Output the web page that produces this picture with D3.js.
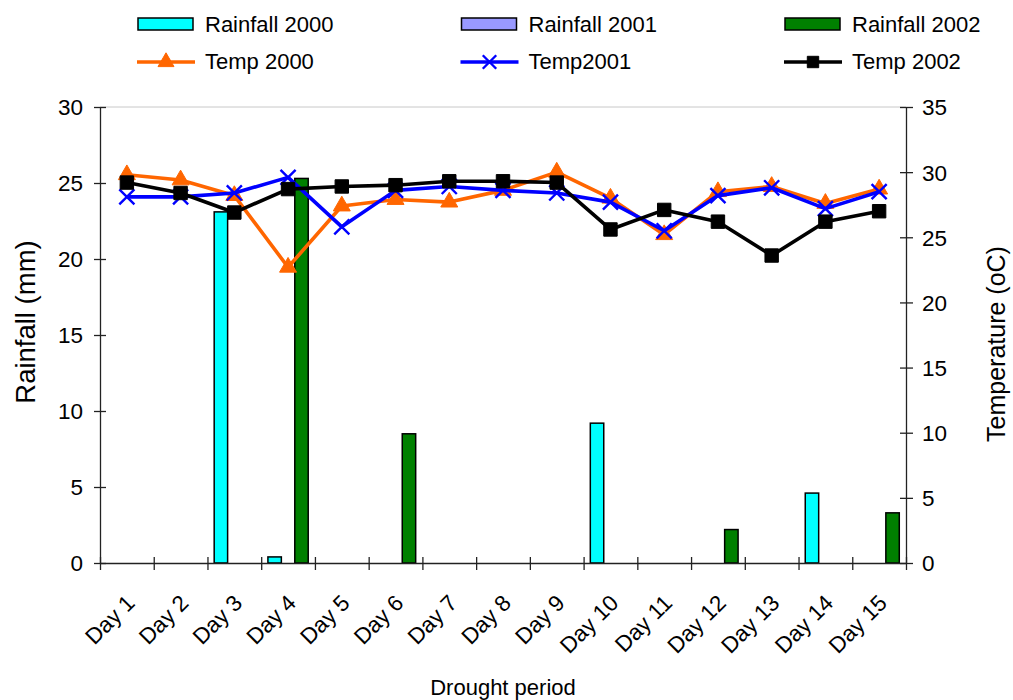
<!DOCTYPE html>
<html>
<head>
<meta charset="utf-8">
<script src="https://cdn.jsdelivr.net/npm/d3@7"></script>
<style>
  body { margin: 0; background: #fff; }
  text { font-family: "Liberation Sans", Arial, sans-serif; fill: #000; }
</style>
</head>
<body>
<div id="chart"></div>
<script>
const days = ['Day 1', 'Day 2', 'Day 3', 'Day 4', 'Day 5', 'Day 6', 'Day 7', 'Day 8',
  'Day 9', 'Day 10', 'Day 11', 'Day 12', 'Day 13', 'Day 14', 'Day 15'];

const rain2000 = [0, 0, 23.1, 0.4, 0, 0, 0, 0, 0, 9.2, 0, 0, 0, 4.6, 0];
const rain2001 = [0, 0, 0, 0, 0, 0, 0, 0, 0, 0, 0, 0, 0, 0, 0];
const rain2002 = [0, 0, 0, 25.3, 0, 8.5, 0, 0, 0, 0, 0, 2.2, 0, 0, 3.3];

const temp2000 = [29.8, 29.4, 28.2, 22.7, 27.4, 27.9, 27.7, 28.6, 30.0, 28.0, 25.2, 28.5, 28.9, 27.6, 28.7];
const temp2001 = [28.1, 28.1, 28.4, 29.6, 25.8, 28.6, 28.9, 28.6, 28.4, 27.7, 25.5, 28.2, 28.8, 27.2, 28.5];
const temp2002 = [29.2, 28.4, 26.9, 28.7, 28.9, 29.0, 29.3, 29.3, 29.2, 25.6, 27.1, 26.2, 23.6, 26.2, 27.0];

const rainTicks = [0, 5, 10, 15, 20, 25, 30];
const tempTicks = [0, 5, 10, 15, 20, 25, 30, 35];

const rainSeries = [
  { name: 'Rainfall 2000', values: rain2000, color: '#00ffff' },
  { name: 'Rainfall 2001', values: rain2001, color: '#9999ff' },
  { name: 'Rainfall 2002', values: rain2002, color: '#008000' }
];
const tempSeries = [
  { name: 'Temp 2000', values: temp2000, color: '#ff6600', marker: 'tri' },
  { name: 'Temp2001', values: temp2001, color: '#0000ff', marker: 'x' },
  { name: 'Temp 2002', values: temp2002, color: '#000000', marker: 'sq' }
];

const W = 1013, H = 700;
const plot = { left: 100, right: 906, top: 107, bottom: 563 };

const svg = d3.select('#chart').append('svg')
    .attr('width', W)
    .attr('height', H);

const x = d3.scaleBand().domain(days).range([plot.left, plot.right]).padding(0);
const xSub = d3.scaleBand().domain(rainSeries.map(s => s.name))
    .range([0, x.bandwidth()]).paddingInner(0).paddingOuter(0.5);
const xEdge = d3.scaleLinear().domain([0, days.length]).range([plot.left, plot.right]);
const yL = d3.scaleLinear().domain([0, 30]).range([plot.bottom, plot.top]);
const yR = d3.scaleLinear().domain([0, 35]).range([plot.bottom, plot.top]);

// faint plot border at the top
svg.append('line')
    .attr('x1', plot.left).attr('x2', plot.right)
    .attr('y1', plot.top).attr('y2', plot.top)
    .attr('stroke', '#c8c8c8').attr('stroke-width', 1);

// bars
rainSeries.forEach(s => {
  svg.append('g').selectAll('rect')
    .data(s.values.map((v, i) => ({ v, day: days[i] })).filter(d => d.v > 0))
    .join('rect')
      .attr('x', d => x(d.day) + xSub(s.name))
      .attr('width', xSub.bandwidth())
      .attr('y', d => yL(d.v))
      .attr('height', d => yL(0) - yL(d.v))
      .attr('fill', s.color)
      .attr('stroke', '#000')
      .attr('stroke-width', 1.5);
});

// axes
const axisStyle = g => {
  g.select('.domain').attr('stroke', '#222').attr('stroke-width', 1.3);
  g.selectAll('.tick line').attr('stroke', '#222').attr('stroke-width', 1.3);
  g.selectAll('.tick text').style('font-size', '22.5px').style('font-family', '"Liberation Sans", Arial, sans-serif');
};

const leftAxis = svg.append('g')
    .attr('transform', `translate(${plot.left},0)`)
    .call(d3.axisLeft(yL).tickValues(rainTicks).tickSizeInner(6).tickSizeOuter(0).tickPadding(11))
    .call(axisStyle);
leftAxis.selectAll('.tick line').attr('x2', -6).attr('x1', 6);
leftAxis.selectAll('.tick text').attr('dy', '0.35em');

const rightAxis = svg.append('g')
    .attr('transform', `translate(${plot.right},0)`)
    .call(d3.axisRight(yR).tickValues(tempTicks).tickSizeInner(7).tickSizeOuter(0).tickPadding(9))
    .call(axisStyle);
rightAxis.selectAll('.tick line').attr('x1', -6);
rightAxis.selectAll('.tick text').attr('dy', '0.35em');

const bottomAxis = svg.append('g')
    .attr('transform', `translate(0,${plot.bottom})`)
    .call(d3.axisBottom(xEdge).tickValues(d3.range(days.length + 1)).tickFormat('').tickSizeInner(7).tickSizeOuter(0))
    .call(axisStyle);
bottomAxis.selectAll('.tick line').attr('y1', -6);

// x labels
svg.append('g').selectAll('text')
  .data(days)
  .join('text')
    .attr('transform', d => `translate(${x(d) + x.bandwidth() / 2 - 2},${plot.bottom + 30}) rotate(-45)`)
    .attr('text-anchor', 'end')
    .attr('dy', '0.71em')
    .style('font-size', '22.5px')
    .text(d => d);

// lines
const markerPath = {
  tri: d3.symbol(d3.symbolTriangle, 125)(),
  sq: d3.symbol(d3.symbolSquare, 180)(),
  x: d3.symbol(d3.symbolTimes, 150)()
};
const legendMarker = {
  tri: d3.symbol(d3.symbolTriangle, 110)(),
  sq: d3.symbol(d3.symbolSquare, 130)(),
  x: d3.symbol(d3.symbolTimes, 120)()
};

function drawMarker(g, type, color, paths) {
  g.append('path')
    .attr('d', paths[type])
    .attr('fill', type === 'x' ? 'none' : color)
    .attr('stroke', color)
    .attr('stroke-width', type === 'x' ? 2.4 : 1);
}

tempSeries.forEach(s => {
  const line = d3.line()
    .x((v, i) => x(days[i]) + x.bandwidth() / 2)
    .y(v => yR(v));
  svg.append('path')
    .datum(s.values)
    .attr('fill', 'none')
    .attr('stroke', s.color)
    .attr('stroke-width', 3.6)
    .attr('stroke-linejoin', 'round')
    .attr('d', line);
  s.values.forEach((v, i) => {
    const g = svg.append('g')
      .attr('transform', `translate(${x(days[i]) + x.bandwidth() / 2},${yR(v)})`);
    drawMarker(g, s.marker, s.color, markerPath);
  });
});

// legend
const legendCols = [137, 460.5, 784];
rainSeries.forEach((s, i) => {
  const g = svg.append('g').attr('transform', `translate(${legendCols[i]},0)`);
  g.append('rect')
    .attr('x', 1).attr('y', 18).attr('width', 55).attr('height', 12)
    .attr('fill', s.color).attr('stroke', '#000').attr('stroke-width', 1.5);
  g.append('text').attr('x', 68).attr('y', 32).style('font-size', '22px').text(s.name);
});
tempSeries.forEach((s, i) => {
  const g = svg.append('g').attr('transform', `translate(${legendCols[i]},0)`);
  g.append('line')
    .attr('x1', 0).attr('x2', 58).attr('y1', 62).attr('y2', 62)
    .attr('stroke', s.color).attr('stroke-width', 3.6);
  const m = g.append('g').attr('transform', 'translate(29,62)');
  drawMarker(m, s.marker, s.color, legendMarker);
  g.append('text').attr('x', 68).attr('y', 69).style('font-size', '22px').text(s.name);
});

// axis titles
svg.append('text')
    .attr('transform', 'translate(35,322) rotate(-90)')
    .attr('text-anchor', 'middle')
    .style('font-size', '27.5px')
    .text('Rainfall (mm)');

svg.append('text')
    .attr('transform', 'translate(1005,344) rotate(-90)')
    .attr('text-anchor', 'middle')
    .style('font-size', '25px')
    .text('Temperature (oC)');

svg.append('text')
    .attr('x', 503).attr('y', 695)
    .attr('text-anchor', 'middle')
    .style('font-size', '22px')
    .text('Drought period');
</script>
</body>
</html>
